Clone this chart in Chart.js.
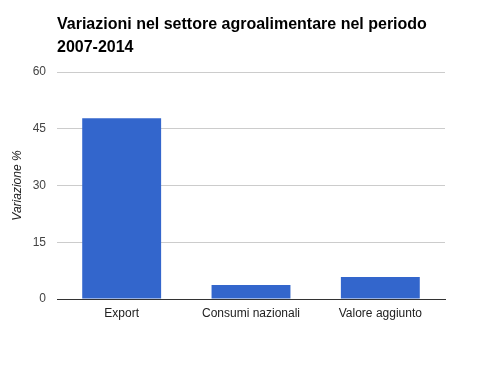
<!DOCTYPE html>
<html>
<head>
<meta charset="utf-8">
<script src="https://cdn.jsdelivr.net/npm/chart.js@4"></script>
<style>
	html, body { margin: 0; padding: 0; background: #fff; }
	#wrap { width: 488px; height: 371px; position: relative; }
</style>
</head>
<body>
<div id="wrap"><canvas id="bar-canvas"></canvas></div>
<script>
const categories = ["Export", "Consumi nazionali", "Valore aggiunto"];
const variazioni = [47.8, 3.7, 5.8];
const titleLines = ["Variazioni nel settore agroalimentare nel periodo", "2007-2014"];
const yTicks = [0, 15, 30, 45, 60];

Chart.defaults.font.family = "Arial, 'Liberation Sans', sans-serif";
Chart.defaults.font.size = 12;

// title drawn left-aligned with the plot area, like the original
const leftTitle = {
	id: "leftTitle",
	afterDraw(chart) {
		const ctx = chart.ctx;
		ctx.save();
		ctx.font = "bold 16px Arial, 'Liberation Sans', sans-serif";
		ctx.fillStyle = "#000";
		ctx.textBaseline = "alphabetic";
		ctx.textAlign = "left";
		titleLines.forEach((line, i) => {
			ctx.fillText(line, chart.chartArea.left, 29 + i * 23);
		});
		ctx.restore();
	},
};

const barCanvas = document.getElementById("bar-canvas").getContext("2d");

const barChart = new Chart(barCanvas, {
	type: "bar",
	data: {
		labels: categories,
		datasets: [
			{
				data: variazioni,
				backgroundColor: "#3366cc",
				categoryPercentage: 0.61,
				barPercentage: 1,
			},
		],
	},
	options: {
		responsive: true,
		maintainAspectRatio: false,
		animation: false,
		layout: {
			padding: { left: 0, right: 43, top: 72, bottom: 0 },
		},
		plugins: {
			legend: { display: false },
			tooltip: { enabled: false },
			title: { display: false },
		},
		scales: {
			x: {
				grid: { display: false, drawTicks: false },
				border: { color: "#333", width: 1 },
				ticks: { color: "#222", padding: 7, font: { size: 12 } },
				afterFit(scale) {
					scale.height = 72;
				},
			},
			y: {
				min: 0,
				max: 60,
				afterBuildTicks(scale) {
					scale.ticks = yTicks.map((v) => ({ value: v }));
				},
				grid: { color: "#ccc", drawTicks: false },
				border: { display: false },
				ticks: { color: "#444", padding: 11, font: { size: 12 } },
				title: {
					display: true,
					text: "Variazione %",
					color: "#222",
					font: { size: 12, style: "italic" },
					padding: { top: 10, bottom: 0 },
				},
				afterFit(scale) {
					scale.width = 57;
				},
			},
		},
	},
	plugins: [leftTitle],
});
</script>
</body>
</html>
